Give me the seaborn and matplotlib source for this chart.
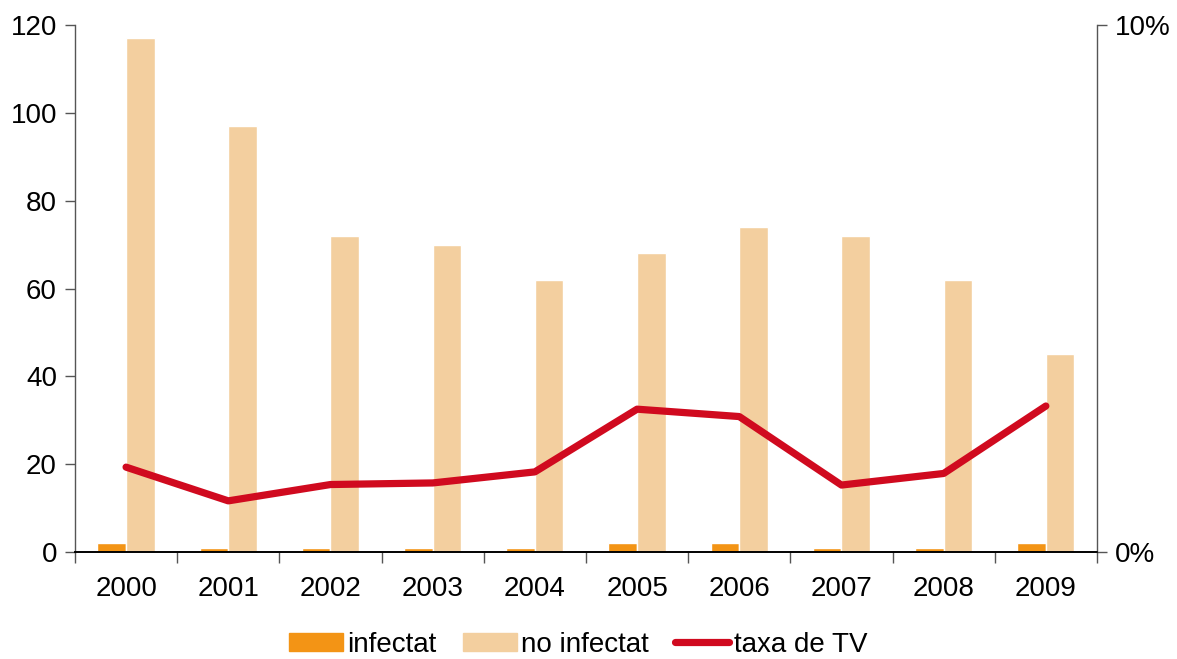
import numpy as np
import pandas as pd
import matplotlib
matplotlib.use("Agg")
import matplotlib.pyplot as plt
import matplotlib.patches as mpatches
import matplotlib.lines as mlines
import seaborn as sns

# data
anys = ["2000", "2001", "2002", "2003", "2004", "2005", "2006", "2007", "2008", "2009"]
infectat = [2, 1, 1, 1, 1, 2, 2, 1, 1, 2]
no_infectat = [117, 97, 72, 70, 62, 68, 74, 72, 62, 45]
taxa_tv = [0.0161, 0.0097, 0.0128, 0.0131, 0.0152, 0.0271, 0.0257, 0.0127, 0.0149, 0.0277]

col_inf = "#F39415"
col_noinf = "#F3CF9F"
col_taxa = "#D00A1F"

sns.set_style("white")
plt.rcParams["font.family"] = ["Liberation Sans", "DejaVu Sans"]
plt.rcParams["text.color"] = "black"
fs = 20

df = pd.DataFrame({
    "any": anys * 2,
    "valor": infectat + no_infectat,
    "tipus": ["infectat"] * len(anys) + ["no infectat"] * len(anys),
})

fig = plt.figure(figsize=(11.77, 6.59), dpi=100)
ax = fig.add_axes([0.0637, 0.1624, 0.8683, 0.7996])

sns.barplot(data=df, x="any", y="valor", hue="tipus", order=anys,
            palette={"infectat": col_inf, "no infectat": col_noinf},
            width=0.56, dodge=True, saturation=1, legend=False, ax=ax)

ax.set_ylim(0, 120)
ax.set_xlim(-0.5, len(anys) - 0.5)
ax.set_yticks(range(0, 121, 20))
ax.set_xlabel("")
ax.set_ylabel("")
ax.tick_params(axis="y", labelsize=fs, length=7, width=1, color="#555555",
               labelcolor="black", direction="out", left=True, pad=6)
ax.tick_params(axis="x", which="major", labelsize=fs, length=0, pad=17, labelcolor="black")
ax.set_xticks(np.arange(-0.5, len(anys)), minor=True)
ax.tick_params(axis="x", which="minor", length=8, width=1, color="#555555", direction="out", bottom=True)

ax2 = ax.twinx()
sns.lineplot(x=np.arange(len(anys)), y=taxa_tv, color=col_taxa, linewidth=5.2,
             solid_capstyle="round", ax=ax2)
ax2.set_ylim(0, 0.10)
ax2.set_yticks([0, 0.10])
ax2.set_yticklabels(["0%", "10%"])
ax2.tick_params(axis="y", labelsize=fs, length=7, width=1, color="#555555",
                labelcolor="black", direction="out", right=True, pad=6)
ax2.set_xlim(-0.5, len(anys) - 0.5)

for a in (ax, ax2):
    a.spines["top"].set_visible(False)
    a.spines["left"].set_color("#555555")
    a.spines["right"].set_color("#555555")
    a.spines["bottom"].set_color("black")
    a.spines["left"].set_linewidth(1)
    a.spines["right"].set_linewidth(1)
    a.spines["bottom"].set_linewidth(1.2)
ax2.spines["left"].set_visible(False)
ax.spines["right"].set_visible(False)

handles = [
    mpatches.Patch(color=col_inf, label="infectat"),
    mpatches.Patch(color=col_noinf, label="no infectat"),
    mlines.Line2D([], [], color=col_taxa, linewidth=5.2, solid_capstyle="round", label="taxa de TV"),
]
fig.legend(handles=handles, loc="lower center", bbox_to_anchor=(0.491, -0.036), ncol=3,
           frameon=False, fontsize=fs, handlelength=1.95, handleheight=0.62,
           handletextpad=0.15, columnspacing=0.95)

fig.savefig("out.png", dpi=100)
